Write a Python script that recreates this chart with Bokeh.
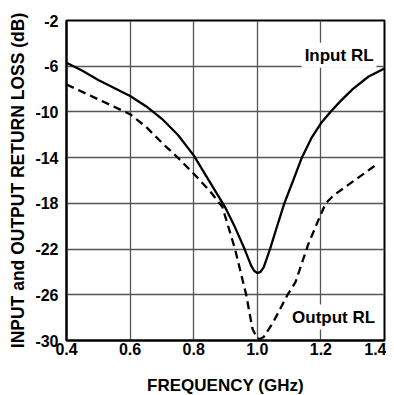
from bokeh.plotting import figure
from bokeh.models import FixedTicker, Range1d, Label
from bokeh.embed import file_html
from bokeh.resources import INLINE

# ---- data ----
x_ticks = [0.4, 0.6, 0.8, 1.0, 1.2, 1.4]
y_ticks = [-30, -26, -22, -18, -14, -10, -6, -2]

freq_in = [0.40, 0.45, 0.50, 0.55, 0.60, 0.65, 0.70, 0.75, 0.80, 0.85, 0.90, 0.93,
           0.96, 0.98, 0.99, 1.00, 1.01, 1.02, 1.04, 1.06, 1.085, 1.11, 1.14, 1.17,
           1.20, 1.23, 1.26, 1.30, 1.35, 1.40]
rl_in = [-5.7, -6.4, -7.2, -7.9, -8.6, -9.5, -10.6, -12.0, -13.8, -16.1, -18.4, -20.1,
         -22.0, -23.4, -23.9, -24.1, -24.0, -23.6, -22.0, -20.2, -18.0, -16.2, -14.0, -12.3,
         -11.0, -10.0, -9.1, -8.0, -6.9, -6.2]

freq_out = [0.40, 0.50, 0.60, 0.65, 0.70, 0.75, 0.80, 0.85, 0.89, 0.93, 0.965, 0.985,
            1.00, 1.01, 1.02, 1.05, 1.095, 1.12, 1.16, 1.19, 1.215, 1.24, 1.28, 1.32, 1.38]
rl_out = [-7.6, -8.9, -10.2, -11.3, -12.7, -14.0, -15.4, -16.9, -18.3, -22.0, -26.0, -29.0,
          -29.8, -29.85, -29.7, -28.4, -26.0, -24.9, -21.6, -19.6, -18.0, -17.3, -16.5, -15.7, -14.5]

FONT = "Liberation Sans"

p = figure(output_backend="svg", toolbar_location=None,
           frame_width=318, frame_height=320,
           min_border_left=66, min_border_right=2, min_border_top=20, min_border_bottom=55,
           x_range=Range1d(0.4, 1.4), y_range=Range1d(-30, -2))

p.background_fill_color = "white"
p.border_fill_color = "white"
p.outline_line_color = "black"
p.outline_line_width = 2

for ax in (p.xaxis[0], p.yaxis[0]):
    ax.major_tick_out = 0
    ax.major_tick_in = 0
    ax.minor_tick_out = 0
    ax.minor_tick_in = 0
    ax.axis_line_width = 2
    ax.axis_line_color = "black"
    ax.major_label_text_font = FONT
    ax.major_label_text_font_style = "bold"
    ax.major_label_text_font_size = "16px"
    ax.major_label_text_color = "black"
    ax.axis_label_text_font = FONT
    ax.axis_label_text_font_style = "bold"
    ax.axis_label_text_color = "black"

p.xaxis.ticker = FixedTicker(ticks=x_ticks)
p.yaxis.ticker = FixedTicker(ticks=y_ticks)
p.xaxis.major_label_overrides = {t: f"{t:.1f}" for t in x_ticks}
p.yaxis.major_label_overrides = {t: f"{t}" for t in y_ticks}

p.xaxis.axis_label = "FREQUENCY (GHz)"
p.xaxis.axis_label_text_font_size = "17px"
p.xaxis.major_label_standoff = 2
p.xaxis.axis_label_standoff = 18

p.yaxis.axis_label = "INPUT and OUTPUT RETURN LOSS (dB)"
p.yaxis.axis_label_text_font_size = "17.5px"
p.yaxis.major_label_standoff = 8
p.yaxis.axis_label_standoff = 4

p.xgrid.ticker = FixedTicker(ticks=x_ticks)
p.ygrid.ticker = FixedTicker(ticks=y_ticks)
for g in (p.xgrid[0], p.ygrid[0]):
    g.grid_line_color = "#555555"
    g.grid_line_width = 1.3

p.line(freq_in, rl_in, line_color="black", line_width=2.3)
p.line(freq_out, rl_out, line_color="black", line_width=2.3, line_dash="8 5")

p.add_layout(Label(x=1.375, y=-5.05, text="Input RL", text_align="right",
                   text_baseline="alphabetic", text_font=FONT, text_font_style="bold",
                   text_font_size="17px", text_color="black",
                   background_fill_color="white", padding=3))
p.add_layout(Label(x=1.38, y=-27.95, text="Output RL", text_align="right",
                   text_baseline="alphabetic", text_font=FONT, text_font_style="bold",
                   text_font_size="17px", text_color="black",
                   background_fill_color="white", padding=3))

open("out.html", "w").write(file_html(p, INLINE))
